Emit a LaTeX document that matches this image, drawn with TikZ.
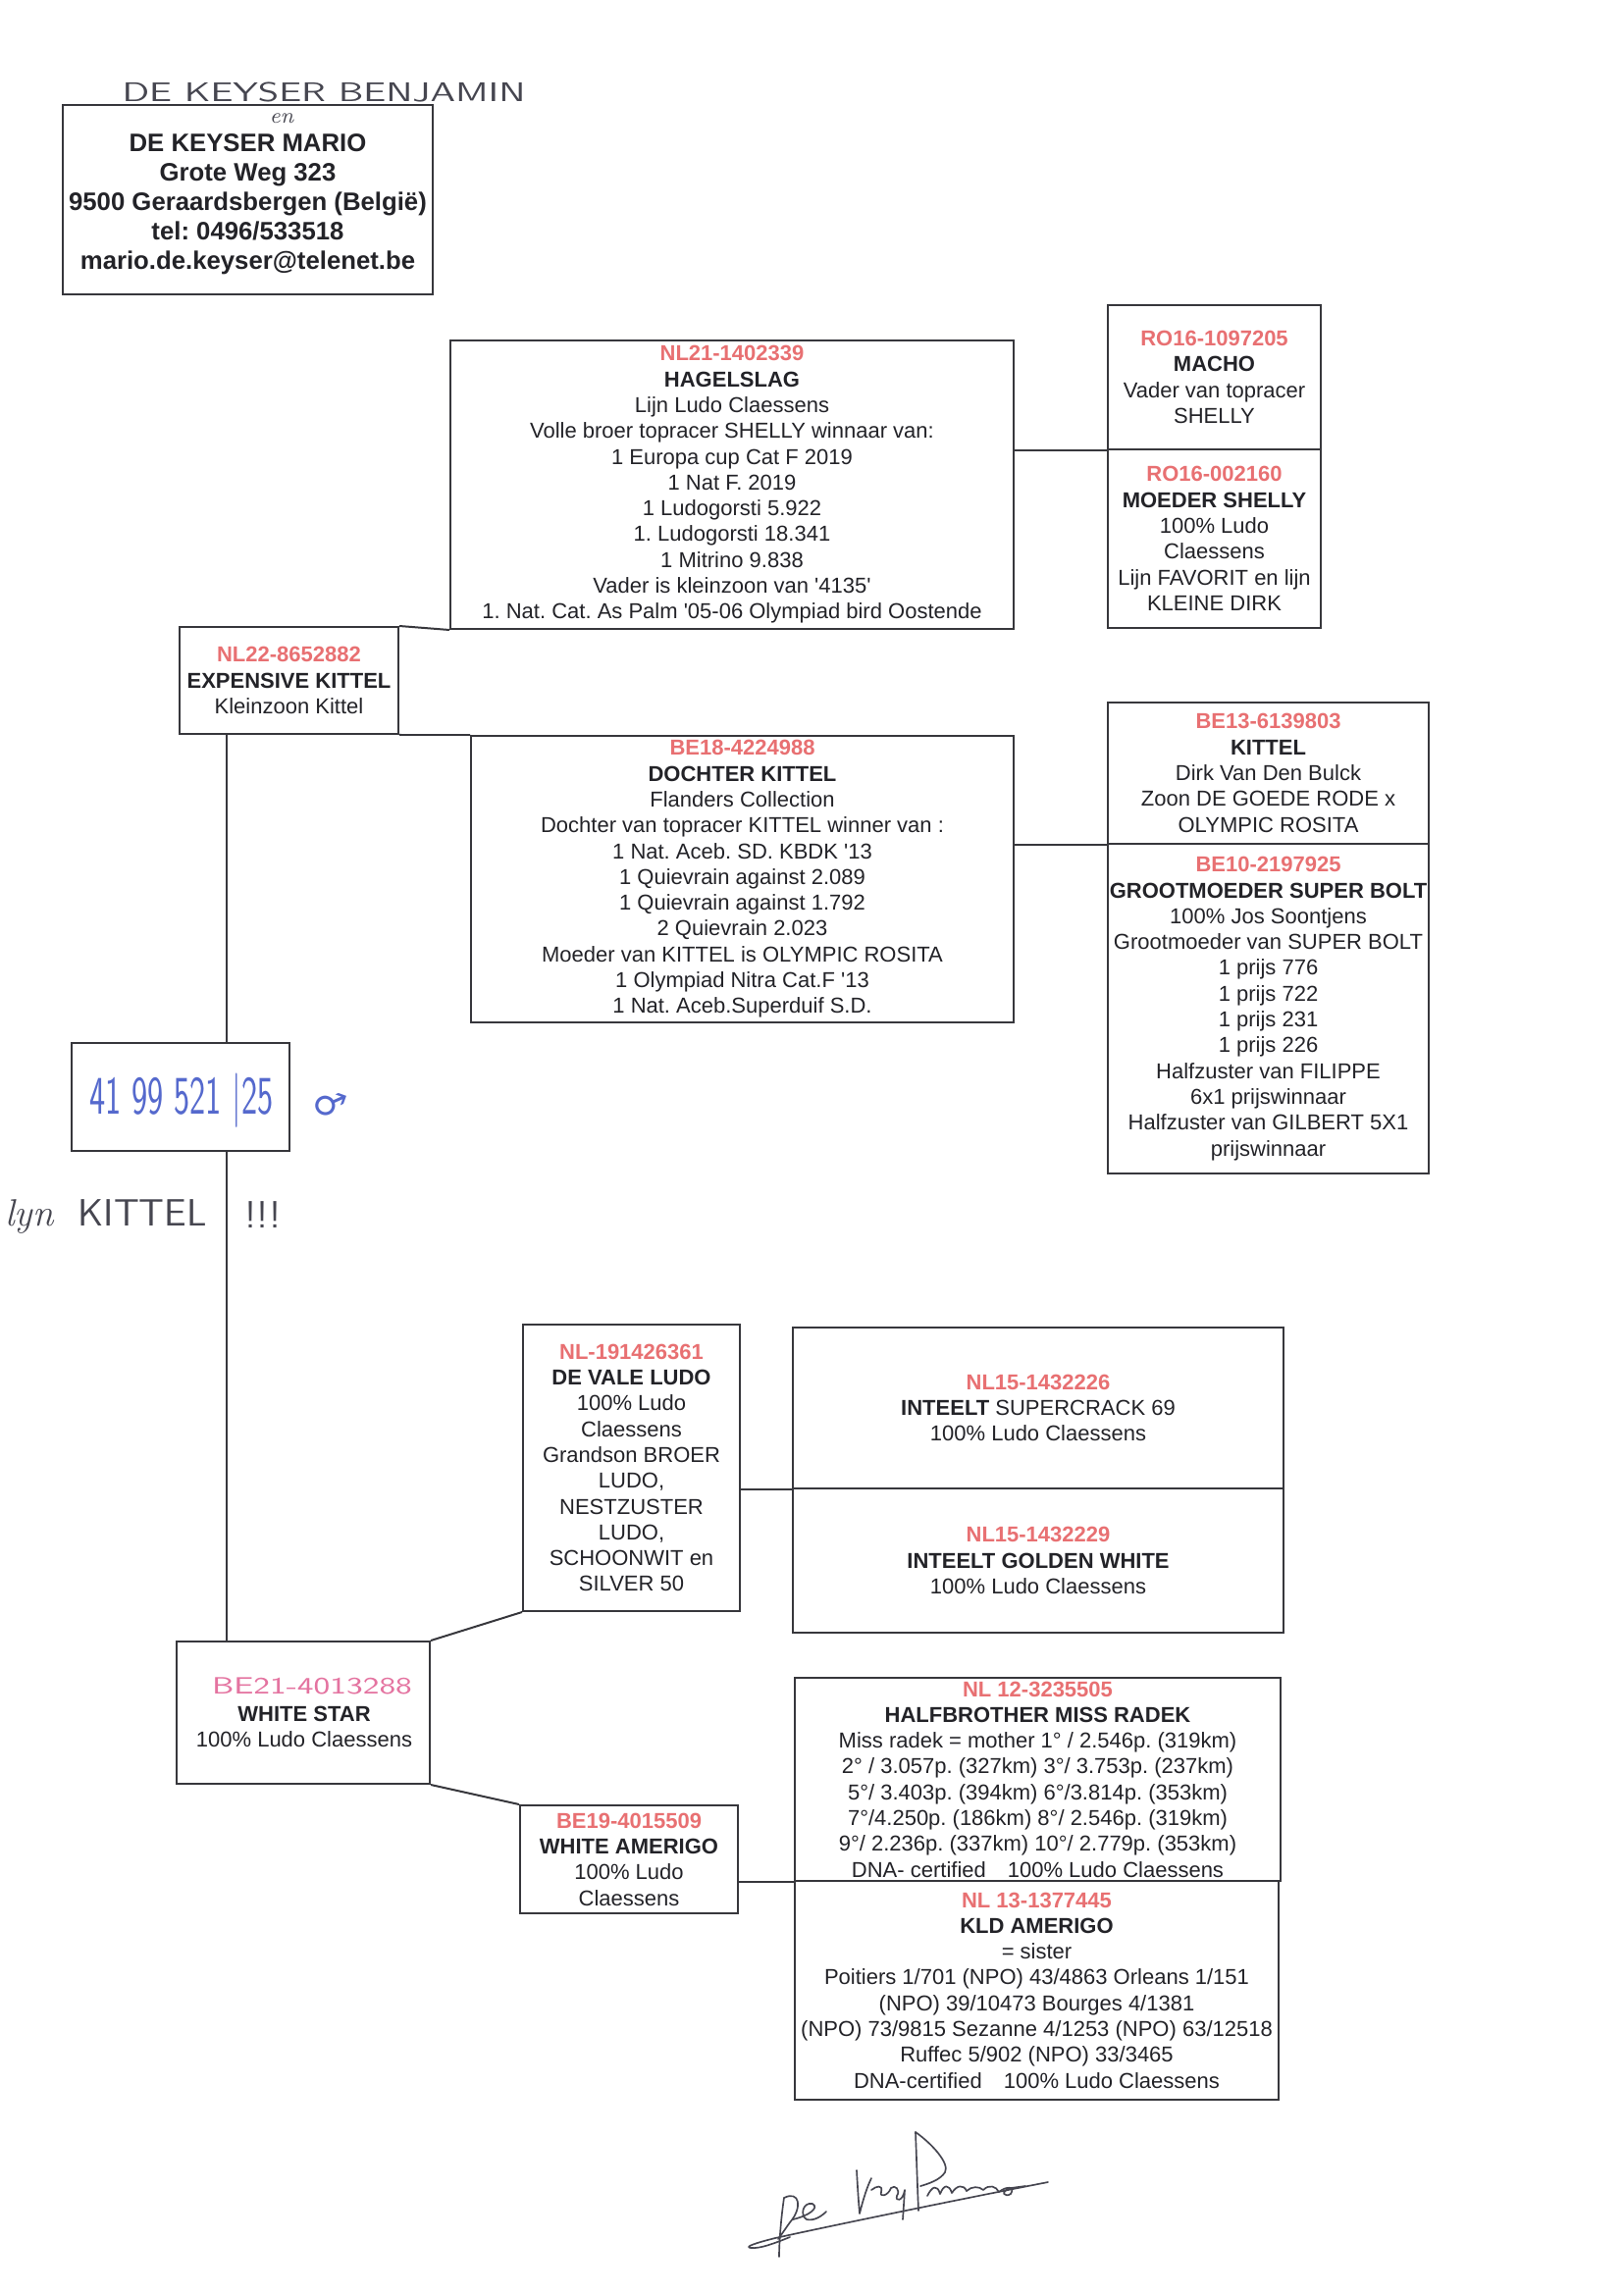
\documentclass[tikz,border=0pt]{standalone}
\usepackage{fontspec}
\newfontfamily\arial{Liberation Sans}
\newfontfamily\symfont{DejaVu Sans}
\usetikzlibrary{fit}
\definecolor{ring}{RGB}{232,112,114}
\definecolor{ink}{RGB}{35,35,40}
\definecolor{edge}{RGB}{55,55,60}
\definecolor{bluepen}{RGB}{85,105,205}
\definecolor{pinkpen}{RGB}{228,115,160}
\definecolor{graypen}{RGB}{70,70,80}
\newcommand\ringno[1]{{\bfseries\color{ring}#1}}
\newcommand\bname[1]{{\bfseries #1}}
\newcommand\sq{\textquotesingle}
\frenchspacing
\begin{document}
\begin{tikzpicture}[x=0.127mm,y=-0.127mm,
  box/.style={draw=edge,line width=0.72pt,inner sep=0pt},
  txt/.style={font=\arial\frenchspacing\fontsize{7.95pt}{9.5pt}\selectfont,text=ink,align=center,inner sep=0pt},
  hdr/.style={font=\arial\frenchspacing\bfseries\fontsize{9.3pt}{10.84pt}\selectfont,text=ink,align=center,inner sep=0pt},
  link/.style={draw=edge,line width=0.72pt},
  hand/.style={font=\sffamily,text=graypen,inner sep=0pt},
  sig/.style={draw=graypen,line width=0.6pt,line cap=round,line join=round}]
\useasboundingbox[fill=white] (0,0) rectangle (1654,2337);

% header
\node[box,fit={(64,107) (441,300)}] (hdrbox) {};
\node[hdr] (hdrtxt) at (252.5,208) {DE KEYSER MARIO\\Grote Weg 323\\9500 Geraardsbergen (België)\\tel: 0496/533518\\mario.de.keyser@telenet.be};
\node[hand] (benj) at (330,94) {\scalebox{1.4}[1]{\fontsize{9.9pt}{10pt}\selectfont DE KEYSER BENJAMIN}};
\node[hand] (en) at (287,121) {\rmfamily\itshape\fontsize{8pt}{8pt}\selectfont en};

% boxes
\node[box,fit={(459,347) (1033,641)}] (H) {};
\node[txt] (Ht) at (H.center) {\ringno{NL21-1402339}\\\bname{HAGELSLAG}\\Lijn Ludo Claessens\\Volle broer topracer SHELLY winnaar van:\\1 Europa cup Cat F 2019\\1 Nat F. 2019\\1 Ludogorsti 5.922\\1. Ludogorsti 18.341\\1 Mitrino 9.838\\Vader is kleinzoon van \sq4135\sq\\1. Nat. Cat. As Palm \sq05-06 Olympiad bird Oostende};

\node[box,fit={(1129,311) (1346,458)}] (M1) {};
\node[txt] (M1t) at (M1.center) {\ringno{RO16-1097205}\\\bname{MACHO}\\Vader van topracer\\SHELLY};
\node[box,fit={(1129,458) (1346,640)}] (M2) {};
\node[txt] (M2t) at (M2.center) {\ringno{RO16-002160}\\\bname{MOEDER SHELLY}\\100\% Ludo\\Claessens\\Lijn FAVORIT en lijn\\KLEINE DIRK};

\node[box,fit={(183,639) (406,748)}] (E) {};
\node[txt] (Et) at (E.center) {\ringno{NL22-8652882}\\\bname{EXPENSIVE KITTEL}\\Kleinzoon Kittel};

\node[box,fit={(480,750) (1033,1042)}] (D) {};
\node[txt] (Dt) at (D.center) {\ringno{BE18-4224988}\\\bname{DOCHTER KITTEL}\\Flanders Collection\\Dochter van topracer KITTEL winner van :\\1 Nat. Aceb. SD. KBDK \sq13\\1 Quievrain against 2.089\\1 Quievrain against 1.792\\2 Quievrain 2.023\\Moeder van KITTEL is OLYMPIC ROSITA\\1 Olympiad Nitra Cat.F \sq13\\1 Nat. Aceb.Superduif S.D.};

\node[box,fit={(1129,716) (1456,860)}] (K1) {};
\node[txt] (K1t) at (K1.center) {\ringno{BE13-6139803}\\\bname{KITTEL}\\Dirk Van Den Bulck\\Zoon DE GOEDE RODE x\\OLYMPIC ROSITA};
\node[box,fit={(1129,860) (1456,1196)}] (K2) {};
\node[txt] (K2t) at (K2.center) {\ringno{BE10-2197925}\\\bname{GROOTMOEDER SUPER BOLT}\\100\% Jos Soontjens\\Grootmoeder van SUPER BOLT\\1 prijs 776\\1 prijs 722\\1 prijs 231\\1 prijs 226\\Halfzuster van FILIPPE\\6x1 prijswinnaar\\Halfzuster van GILBERT 5X1\\prijswinnaar};

\node[box,fit={(73,1063) (295,1173)}] (N) {};
\node[hand,text=bluepen] (Nt) at (185,1122) {\scalebox{0.62}[1]{\fontsize{20pt}{20pt}\selectfont 41 99 521 |25}};
\node[text=bluepen,inner sep=0pt,rotate=-20] (male) at (336,1125) {\symfont\fontsize{13pt}{13pt}\selectfont ♂};
\node[hand] (lyn) at (108,1240) {\fontsize{14pt}{14pt}\selectfont{\rmfamily\itshape lyn}\ \ KITTEL};
\node[hand] (bang) at (268,1238) {\fontsize{14pt}{14pt}\selectfont !!!};

\node[box,fit={(533,1350) (754,1642)}] (V) {};
\node[txt] (Vt) at (V.center) {\ringno{NL-191426361}\\\bname{DE VALE LUDO}\\100\% Ludo\\Claessens\\Grandson BROER\\LUDO,\\NESTZUSTER\\LUDO,\\SCHOONWIT en\\SILVER 50};

\node[box,fit={(808,1353) (1308,1517)}] (I1) {};
\node[txt] (I1t) at (I1.center) {\ringno{NL15-1432226}\\\bname{INTEELT} SUPERCRACK 69\\100\% Ludo Claessens};
\node[box,fit={(808,1517) (1308,1664)}] (I2) {};
\node[txt] (I2t) at (I2.center) {\ringno{NL15-1432229}\\\bname{INTEELT GOLDEN WHITE}\\100\% Ludo Claessens};

\node[box,fit={(180,1673) (438,1818)}] (W) {};
\node[txt] (Wt) at (310,1760) {\bname{WHITE STAR}\\100\% Ludo Claessens};
\node[hand,text=pinkpen] (Wr) at (318,1718) {\scalebox{1.35}[1]{\fontsize{8.7pt}{9pt}\selectfont BE21-4013288}};

\node[box,fit={(530,1840) (752,1950)}] (A) {};
\node[txt] (At) at (A.center) {\ringno{BE19-4015509}\\\bname{WHITE AMERIGO}\\100\% Ludo\\Claessens};

\node[box,fit={(810,1710) (1305,1917)}] (HB1) {};
\node[txt] (HB1t) at (HB1.center) {\ringno{NL 12-3235505}\\\bname{HALFBROTHER MISS RADEK}\\Miss radek = mother 1° / 2.546p. (319km)\\2° / 3.057p. (327km) 3°/ 3.753p. (237km)\\5°/ 3.403p. (394km) 6°/3.814p. (353km)\\7°/4.250p. (186km) 8°/ 2.546p. (319km)\\9°/ 2.236p. (337km) 10°/ 2.779p. (353km)\\DNA- certified\quad 100\% Ludo Claessens};
\node[box,fit={(810,1917) (1303,2140)}] (HB2) {};
\node[txt] (HB2t) at (HB2.center) {\ringno{NL 13-1377445}\\\bname{KLD AMERIGO}\\= sister\\Poitiers 1/701 (NPO) 43/4863 Orleans 1/151\\(NPO) 39/10473 Bourges 4/1381\\(NPO) 73/9815 Sezanne 4/1253 (NPO) 63/12518\\Ruffec 5/902 (NPO) 33/3465\\DNA-certified\quad 100\% Ludo Claessens};

% connectors
\coordinate (vx) at (231,0);
\draw[link] (M1.south west) -- (M1.south west -| H.east);
\draw[link] (E.north east) -- (H.south west);
\draw[link] (E.south east) -- (D.north west);
\draw[link] (K1.south west) -- (K1.south west -| D.east);
\draw[link] (E.south -| vx) -- (N.north -| vx);
\draw[link] (N.south -| vx) -- (W.north -| vx);
\draw[link] (W.north east) -- (V.south west);
\draw[link] (W.south east) -- (A.north west);
\draw[link] (I1.south west) -- (I1.south west -| V.east);
\draw[link] (HB1.south west) -- (HB1.south west -| A.east);

% signature
\draw[sig] (1068,2224) .. controls (960,2245) and (840,2270) .. (790,2281) .. controls (770,2286) and (758,2290) .. (765,2291) .. controls (775,2292) and (790,2286) .. (805,2280);
\draw[sig] (799,2240) .. controls (796,2260) and (794,2285) .. (794,2300);
\draw[sig] (799,2240) .. controls (815,2232) and (818,2250) .. (805,2265) .. controls (800,2272) and (796,2278) .. (793,2282);
\draw[sig] (808,2262) .. controls (825,2258) and (835,2250) .. (828,2246) .. controls (818,2244) and (815,2258) .. (822,2262) .. controls (830,2264) and (838,2258) .. (842,2254);
\draw[sig] (873,2212) .. controls (874,2230) and (875,2245) .. (876,2256) .. controls (880,2240) and (884,2228) .. (888,2220);
\draw[sig] (888,2232) .. controls (893,2228) and (900,2226) .. (898,2234) .. controls (896,2240) and (905,2238) .. (908,2230) .. controls (912,2226) and (918,2232) .. (914,2238) .. controls (912,2244) and (920,2244) .. (922,2232) -- (920,2262);
\draw[sig] (933,2173) .. controls (934,2200) and (935,2230) .. (936,2253);
\draw[sig] (933,2173) .. controls (950,2185) and (968,2205) .. (963,2214) .. controls (958,2222) and (945,2226) .. (938,2228);
\draw[sig] (945,2238) .. controls (950,2228) and (955,2226) .. (958,2236) .. controls (962,2226) and (967,2226) .. (970,2235) .. controls (975,2227) and (982,2226) .. (985,2233) .. controls (990,2228) and (998,2228) .. (1002,2232) .. controls (1008,2226) and (1015,2228) .. (1018,2234) .. controls (1025,2228) and (1035,2228) .. (1030,2236) .. controls (1024,2240) and (1018,2234) .. (1030,2230) -- (1045,2228);
\end{tikzpicture}
\end{document}
